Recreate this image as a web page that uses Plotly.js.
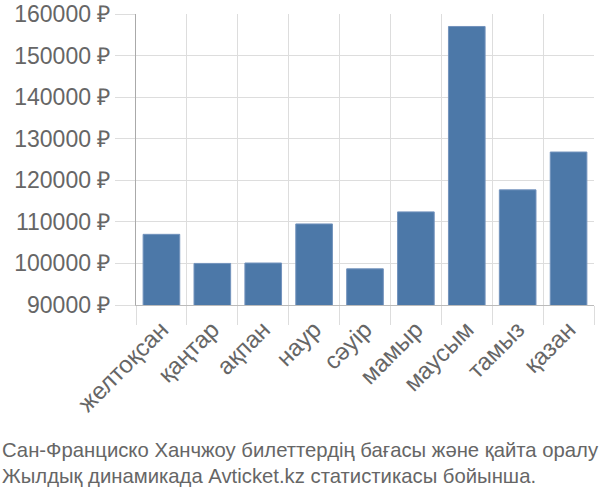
<!DOCTYPE html>
<html>
<head>
<meta charset="utf-8">
<script src="https://cdn.plot.ly/plotly-3.0.1.min.js"></script>
<style>html,body{margin:0;padding:0;background:#fff;}#chart{width:600px;height:500px;}</style>
</head>
<body>
<div id="chart"></div>
<script>
const months = ["желтоқсан", "қаңтар", "ақпан", "наур", "сәуір", "мамыр", "маусым", "тамыз", "қазан"];
const prices = [107000, 100000, 100100, 109500, 98700, 112400, 157000, 117700, 126800];
const yTicks = [90000, 100000, 110000, 120000, 130000, 140000, 150000, 160000];
const yTickLabels = ["90000 ₽", "100000 ₽", "110000 ₽", "120000 ₽", "130000 ₽", "140000 ₽", "150000 ₽", "160000 ₽"];
const captionLines = ["Сан-Франциско Ханчжоу билеттердің бағасы және қайта оралу", "Жылдық динамикада Avticket.kz статистикасы бойынша."];

const font = "Liberation Sans, Arial, sans-serif";
const trace = {
  type: "bar",
  x: months,
  y: prices,
  marker: {color: "#4c78a8", line: {color: "#7393bd", width: 1}},
  hoverinfo: "x+y"
};
const layout = {
  width: 600, height: 500,
  margin: {l: 136, r: 6, t: 14, b: 195},
  paper_bgcolor: "#fff", plot_bgcolor: "#fff",
  bargap: 0.28,
  showlegend: false,
  font: {family: font, color: "#666"},
  xaxis: {
    type: "category",
    tickson: "boundaries",
    ticks: "outside", ticklen: 19, tickcolor: "#ddd", tickwidth: 1,
    showgrid: true, gridcolor: "#ddd", gridwidth: 1,
    showline: true, linecolor: "#bbb", linewidth: 1,
    tickangle: -45,
    tickfont: {size: 24, family: font, color: "#666"}
  },
  yaxis: {
    range: [90000, 160000],
    tickvals: yTicks,
    ticktext: yTickLabels,
    ticks: "outside", ticklen: 20, tickcolor: "#ddd",
    showgrid: true, gridcolor: "#ddd", gridwidth: 1,
    zeroline: false,
    showline: true, linecolor: "#aaa", linewidth: 1,
    tickfont: {size: 23, family: font, color: "#666"}
  },
  annotations: captionLines.map((t, i) => ({
    text: t, xref: "paper", yref: "paper",
    x: 0, xanchor: "left", xshift: -136,
    y: 0, yanchor: "middle", yshift: -145 - i * 26,
    showarrow: false,
    font: {size: 20.3, family: font, color: "#666"}
  }))
};
Plotly.newPlot("chart", [trace], layout, {displayModeBar: false, staticPlot: true});
</script>
</body>
</html>
